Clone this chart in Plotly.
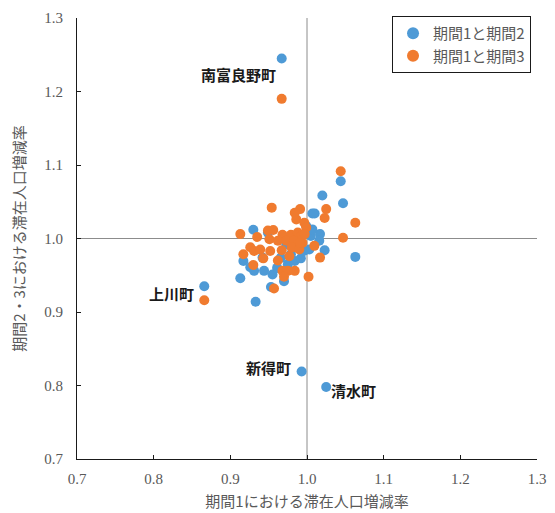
import plotly.graph_objects as go

# Series 1: 期間1と期間2
s1_x = [0.967, 0.866, 0.993, 1.025, 0.933,
        1.044, 1.020, 1.047, 1.007, 1.010, 1.017, 1.016, 1.023, 1.063,
        0.930, 0.949, 0.917, 0.913, 0.926, 0.931, 0.944, 0.955, 0.953,
        0.970, 0.961, 0.975, 0.984, 0.992, 0.979, 0.996, 1.003, 0.988,
        1.005, 1.007, 0.999, 0.973, 0.966, 0.942]
s1_y = [1.245, 0.935, 0.819, 0.798, 0.914,
        1.078, 1.0586, 1.048, 1.034, 1.034, 1.006, 0.997, 0.984, 0.975,
        1.012, 1.008, 0.9695, 0.946, 0.961, 0.956, 0.956, 0.951, 0.934,
        0.942, 0.960, 0.965, 0.9695, 0.973, 0.9785, 0.983, 0.985, 0.9876,
        1.0034, 1.0124, 1.017, 0.992, 0.974, 0.974]

# Series 2: 期間1と期間3
s2_x = [0.967, 0.866,
        1.044, 0.954, 1.063, 1.025, 1.023, 0.991, 0.984, 0.986, 0.9965, 0.999,
        1.047, 0.913, 0.935, 0.949, 0.956, 0.968, 0.979, 0.988, 0.992, 0.951,
        0.962, 0.973, 0.983, 0.926, 0.931, 0.939, 0.917, 0.943, 0.952, 0.967,
        0.977, 0.962, 0.980, 0.990, 0.994, 1.0096, 1.017, 1.002, 0.930, 0.968,
        0.975, 0.984, 0.970, 0.957, 0.991, 0.997]
s2_y = [1.190, 0.916,
        1.0916, 1.042, 1.0215, 1.040, 1.028, 1.040, 1.035, 1.026, 1.0215, 1.015,
        1.001, 1.006, 1.002, 1.011, 1.0115, 1.005, 1.005, 1.008, 1.003, 0.999,
        0.997, 0.997, 0.997, 0.988, 0.983, 0.985, 0.9785, 0.973, 0.983, 0.984,
        0.976, 0.970, 0.9876, 0.985, 0.994, 0.990, 0.974, 0.948, 0.964, 0.956,
        0.956, 0.956, 0.948, 0.932, 0.994, 1.006]

x_ticks = [0.7, 0.8, 0.9, 1.0, 1.1, 1.2, 1.3]
y_ticks = [0.7, 0.8, 0.9, 1.0, 1.1, 1.2, 1.3]

labels = ["南富良野町", "上川町", "新得町", "清水町"]
label_x = [0.967, 0.866, 0.993, 1.025]
label_y = [1.2235, 0.925, 0.825, 0.793]
label_anchor = ["right", "right", "right", "left"]
label_xshift = [-4, -8, -9, 3]

blue = "#4E9AD6"
orange = "#F07B2F"
grey = "#595959"

fig = go.Figure()
fig.add_trace(go.Scatter(x=s1_x, y=s1_y, mode="markers", name="期間1と期間2",
                         marker=dict(color=blue, size=10)))
fig.add_trace(go.Scatter(x=s2_x, y=s2_y, mode="markers", name="期間1と期間3",
                         marker=dict(color=orange, size=10)))

fig.add_shape(type="line", xref="x", yref="y", x0=1.0, x1=1.0, y0=0.7, y1=1.3,
              line=dict(color="#8c8c8c", width=1), layer="below")
fig.add_shape(type="line", xref="x", yref="y", x0=0.7, x1=1.3, y0=1.0, y1=1.0,
              line=dict(color="#8c8c8c", width=1), layer="below")

for t, x, y, a, s in zip(labels, label_x, label_y, label_anchor, label_xshift):
    fig.add_annotation(x=x, y=y, text="<b>" + t + "</b>", showarrow=False, xanchor=a, xshift=s,
                       font=dict(family="Noto Sans CJK JP", size=15, color="#1a1a1a"))

fig.update_layout(
    width=547, height=505,
    margin=dict(l=69, r=18, t=9, b=54),
    plot_bgcolor="white", paper_bgcolor="white",
    showlegend=True,
    legend=dict(x=0.987, y=1.002, xanchor="right", yanchor="top",
                bgcolor="white", bordercolor="#1a1a1a", borderwidth=1,
                font=dict(family="Noto Sans CJK JP", size=15, color=grey),
                itemsizing="constant", tracegroupgap=0, itemwidth=30),
    xaxis=dict(range=[0.7, 1.3], tickvals=x_ticks, tickformat=".1f", automargin=False,
               showgrid=False, zeroline=False, showline=True, linecolor="#1a1a1a", linewidth=1,
               ticks="inside", ticklen=4, tickcolor="#1a1a1a", ticklabelstandoff=6,
               tickfont=dict(family="Liberation Serif", size=15, color=grey),
               title=dict(text="期間1における滞在人口増減率", standoff=10,
                          font=dict(family="Noto Sans CJK JP", size=15, color=grey))),
    yaxis=dict(range=[0.7, 1.3], tickvals=y_ticks, tickformat=".1f", automargin=False,
               showgrid=False, zeroline=False, showline=True, linecolor="#1a1a1a", linewidth=1,
               ticks="inside", ticklen=4, tickcolor="#1a1a1a", ticklabelstandoff=10,
               tickfont=dict(family="Liberation Serif", size=15, color=grey),
               title=dict(text="期間2・3における滞在人口増減率", standoff=18,
                          font=dict(family="Noto Sans CJK JP", size=15, color=grey))),
)

fig.write_html("out.html")
